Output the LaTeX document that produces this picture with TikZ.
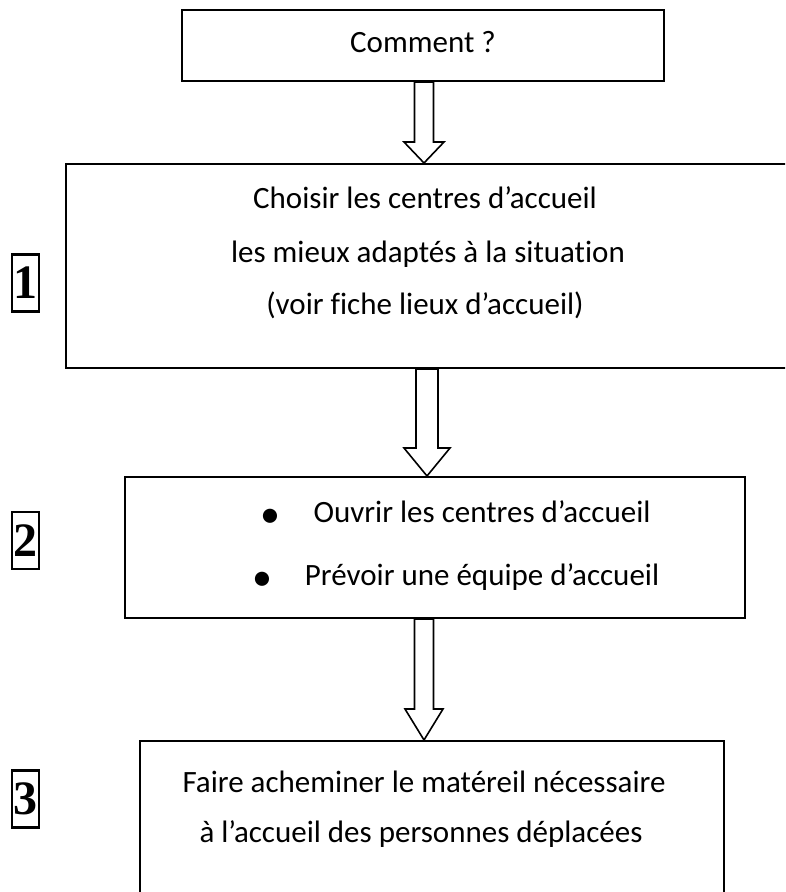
\documentclass[tikz,border=0pt]{standalone}
\usepackage{fontspec}
\setmainfont{Carlito}[Ligatures=NoCommon]
\newfontfamily\numfont{Liberation Serif}
\usetikzlibrary{calc}
\tikzset{
  box/.style={draw=black, line width=2pt, inner sep=0pt},
  numbox/.style={draw=black, line width=2.5pt, inner sep=0pt, minimum width=27pt, minimum height=57pt, font=\numfont\fontsize{48}{48}\selectfont\bfseries},
  txt/.style={font=\fontsize{31}{31}\selectfont, inner sep=0pt, anchor=base},
  bullet/.style={font=\fontsize{40}{40}\selectfont, inner sep=0pt, anchor=base},
  blk/.style={draw=black, line width=1.6pt, fill=white, line join=miter},
}
% #1 x, #2 upper node, #3 lower node, #4 shaft half width, #5 head half width, #6 head length
\newcommand\blockarrow[6]{%
  \draw[blk] let \p1=(#2.south), \p2=(#3.north) in
    (#1-#4,\y1) -- (#1+#4,\y1) -- (#1+#4,\y2+#6pt) -- (#1+#5,\y2+#6pt) -- (#1,\y2)
    -- (#1-#5,\y2+#6pt) -- (#1-#4,\y2+#6pt) -- cycle;}
\begin{document}
\begin{tikzpicture}[x=1pt,y=-1pt]
\useasboundingbox (0,0) rectangle (785,892);
\clip (0,0) rectangle (785,892);
\fill[white] (0,0) rectangle (785,892);
% boxes
\node[box, minimum width=482pt, minimum height=71pt] (c) at (423,45.5) {};
\node[box, minimum width=734pt, minimum height=204pt] (b1) at (433,266) {};
\node[box, minimum width=620pt, minimum height=141pt] (b2) at (435,547.5) {};
\node[box, minimum width=584pt, minimum height=168pt] (b3) at (432,825) {};
% texts
\node[txt] (tc) at (423,52) {Comment ?};
\node[txt] (t11) at (425,208) {Choisir les centres d’accueil};
\node[txt] (t12) at (428,262) {les mieux adaptés à la situation};
\node[txt] (t13) at (425,314) {(voir fiche lieux d’accueil)};
\node[txt] (t21) at (482,522) {Ouvrir les centres d’accueil};
\node[txt] (t22) at (482,585) {Prévoir une équipe d’accueil};
\node[bullet] (bu1) at (270,527) {•};
\node[bullet] (bu2) at (262,590) {•};
\node[txt] (t31) at (424,792) {Faire acheminer le matéreil nécessaire};
\node[txt] (t32) at (421,842) {à l’accueil des personnes déplacées};
% numbers
\node[numbox] (n1) at (25.5,283) {1};
\node[numbox] (n2) at (25.5,540.5) {2};
\node[numbox] (n3) at (25.5,799) {3};
% arrows
\blockarrow{424}{c}{b1}{9.5}{20}{21}
\blockarrow{427}{b1}{b2}{11}{23}{28}
\blockarrow{424}{b2}{b3}{9.5}{19}{31}
\end{tikzpicture}
\end{document}
